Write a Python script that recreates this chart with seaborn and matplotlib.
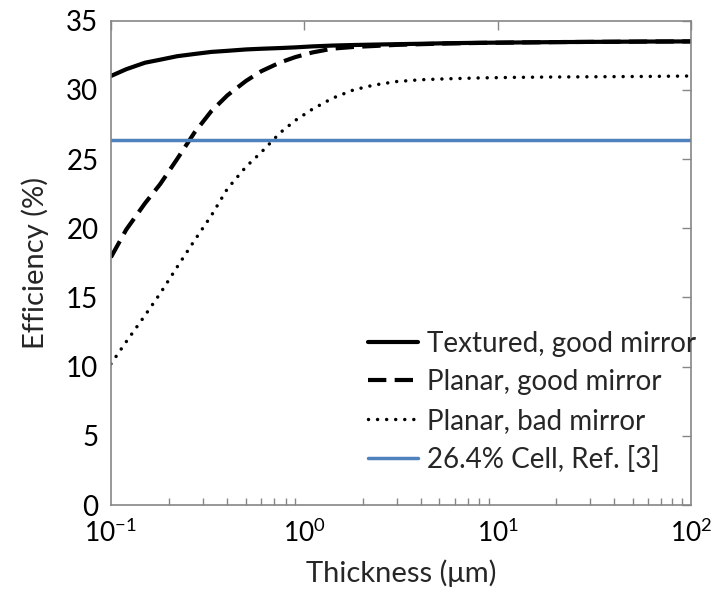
"""Efficiency vs. absorber thickness for textured / planar cells."""

import matplotlib
matplotlib.use("Agg")
import matplotlib.pyplot as plt
import matplotlib.ticker as ticker
import pandas as pd
import seaborn as sns

# thickness grid (um) and efficiencies (%)
THICKNESS = [0.1, 0.12, 0.15, 0.18, 0.22, 0.27, 0.33, 0.4, 0.5, 0.6, 0.75, 0.9,
             1.1, 1.4, 1.8, 2.3, 3, 4, 5.5, 8, 12, 20, 35, 60, 100]
TEXTURED_GOOD = [31.0, 31.49, 31.96, 32.18, 32.43, 32.59, 32.74, 32.82, 32.92,
                 32.97, 33.02, 33.07, 33.14, 33.2, 33.24, 33.27, 33.3, 33.33,
                 33.37, 33.4, 33.42, 33.45, 33.47, 33.49, 33.5]
PLANAR_GOOD = [17.9, 19.9, 21.8, 23.2, 25.0, 26.9, 28.45, 29.6, 30.65, 31.35,
               31.98, 32.37, 32.7, 32.98, 33.1, 33.17, 33.25, 33.3, 33.35, 33.39,
               33.42, 33.45, 33.47, 33.49, 33.5]
PLANAR_BAD = [10.2, 11.8, 13.7, 15.3, 17.2, 19.1, 20.9, 22.85, 24.45, 25.5,
              26.9, 27.8, 28.6, 29.4, 30.0, 30.35, 30.6, 30.73, 30.8, 30.86,
              30.9, 30.93, 30.95, 30.97, 31.0]
REF_CELL = 26.4

LABELS = ["Textured, good mirror", "Planar, good mirror",
          "Planar, bad mirror", "26.4% Cell, Ref. [3]"]
X_TICKS = [0.1, 1, 10, 100]
X_TICKLABELS = [r"$10^{-1}$", r"$10^{0}$", r"$10^{1}$", r"$10^{2}$"]
Y_TICKS = [0, 5, 10, 15, 20, 25, 30, 35]

sns.set_theme(style="white")
plt.rcParams["font.family"] = ["Lato", "DejaVu Sans"]
plt.rcParams["mathtext.fontset"] = "custom"
plt.rcParams["mathtext.rm"] = "Lato"
plt.rcParams["mathtext.it"] = "Lato:italic"
plt.rcParams["mathtext.bf"] = "Lato:bold"
plt.rcParams["mathtext.default"] = "regular"

GREY = "#868686"
BLUE = "#4F81BD"

df = pd.DataFrame({"thickness": THICKNESS, "textured": TEXTURED_GOOD,
                   "planar_good": PLANAR_GOOD, "planar_bad": PLANAR_BAD,
                   "ref": [REF_CELL] * len(THICKNESS)})

fig, ax = plt.subplots(figsize=(7.11, 5.90), dpi=100)
fig.subplots_adjust(left=0.156, right=0.972, bottom=0.144, top=0.965)

series = [("textured", "black"), ("planar_good", "black"),
          ("planar_bad", "black"), ("ref", BLUE)]
for (col, color), label in zip(series, LABELS):
    sns.lineplot(data=df, x="thickness", y=col, color=color, label=label,
                 ax=ax, errorbar=None)

lines = ax.get_lines()
for line, lw in zip(lines, [3.0, 3.0, 2.5, 2.5]):
    line.set_linewidth(lw)
lines[1].set_dashes((4.4, 2.0))
lines[2].set_dashes((0.01, 2.6))
lines[2].set_dash_capstyle("round")

ax.set_xscale("log")
ax.set_xlim(0.1, 100)
ax.set_ylim(0, 35)
ax.set_xticks(X_TICKS)
ax.set_xticklabels(X_TICKLABELS)
ax.xaxis.set_minor_locator(ticker.LogLocator(base=10, subs=range(2, 10)))
ax.xaxis.set_minor_formatter(ticker.NullFormatter())
ax.set_yticks(Y_TICKS)

for side in ax.spines.values():
    side.set_color(GREY)
    side.set_linewidth(1.2)

ax.tick_params(axis="both", which="major", direction="in", length=6.5,
               width=1, color=GREY, labelsize=20, labelcolor="black")
ax.tick_params(axis="x", which="major", pad=10, top=True, labelsize=19)
ax.tick_params(axis="y", which="major", pad=9, right=True)
ax.tick_params(axis="x", which="minor", direction="in", length=5, width=1,
               color=GREY, top=False, bottom=True)

ax.set_xlabel("Thickness (\u03bcm)", fontsize=21, labelpad=9)
ax.set_ylabel("Efficiency (%)", fontsize=21, labelpad=12)

ax.legend(loc="lower left", bbox_to_anchor=(0.443, 0.066), frameon=False,
          fontsize=20, handlelength=1.8, handletextpad=0.32,
          labelspacing=0.45, borderpad=0, borderaxespad=0)

fig.savefig("out.png", dpi=100)
plt.close(fig)
